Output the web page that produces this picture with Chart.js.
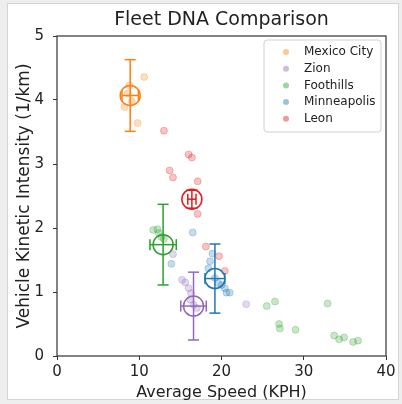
<!DOCTYPE html>
<html>
<head>
<meta charset="utf-8">
<script src="https://cdn.jsdelivr.net/npm/chart.js@4.4.0/dist/chart.umd.min.js"></script>
<style>
html, body { margin: 0; padding: 0; background: #eeeeee; }
#wrap { position: relative; width: 402px; height: 404px; }
</style>
</head>
<body>
<div id="wrap"><canvas id="canvas"></canvas></div>
<script>
// 城市與顏色
var cities = ['Mexico City', 'Zion', 'Foothills', 'Minneapolis', 'Leon'];
var colors = ['#ff7f0e', '#9467bd', '#2ca02c', '#1f77b4', '#e41a1c'];

// 每個城市的散點
var mexicoX = [10.6, 8.8, 8.2, 9.8, 8.6, 9.1];
var mexicoY = [4.36, 4.23, 3.89, 3.64, 4.10, 3.98];
var zionX = [14.1, 15.2, 15.6, 16.0, 16.3, 16.2, 16.6, 17.0, 23.0];
var zionY = [1.59, 1.19, 1.15, 1.06, 0.98, 0.88, 0.80, 0.75, 0.81];
var foothillsX = [11.7, 12.2, 12.4, 12.7, 13.0, 25.5, 26.5, 27.0, 27.1, 29.0, 32.9, 33.7, 34.3, 34.9, 36.0, 36.6];
var foothillsY = [1.97, 1.98, 1.92, 1.86, 1.83, 0.78, 0.85, 0.50, 0.43, 0.41, 0.82, 0.32, 0.26, 0.29, 0.22, 0.24];
var minneapolisX = [16.5, 13.9, 18.9, 18.6, 18.4, 19.2, 19.6, 20.0, 20.4, 20.6, 21.0];
var minneapolisY = [1.93, 1.44, 1.60, 1.48, 1.37, 1.22, 1.14, 1.11, 1.06, 0.99, 0.99];
var leonX = [13.0, 16.0, 16.4, 13.7, 14.1, 17.1, 17.1, 18.1, 19.7, 20.4];
var leonY = [3.52, 3.15, 3.10, 2.90, 2.79, 2.73, 2.22, 1.71, 1.56, 1.33];

// 平均值與誤差
var meanX = [8.9, 16.6, 12.9, 19.2, 16.4];
var meanY = [4.07, 0.78, 1.74, 1.21, 2.45];
var errX = [1.0, 1.55, 1.6, 1.2, 0.5];
var errY = [0.56, 0.53, 0.63, 0.54, 0.14];

var pointsX = [mexicoX, zionX, foothillsX, minneapolisX, leonX];
var pointsY = [mexicoY, zionY, foothillsY, minneapolisY, leonY];

var xTicks = [0, 10, 20, 30, 40];
var yTicks = [0, 1, 2, 3, 4, 5];

var fontName = "'DejaVu Sans', sans-serif";

function rgba(hex, a) {
    var n = parseInt(hex.slice(1), 16);
    return 'rgba(' + (n >> 16) + ',' + ((n >> 8) & 255) + ',' + (n & 255) + ',' + a + ')';
}

function toXY(xs, ys) {
    var out = [];
    for (var i = 0; i < xs.length; i++) out.push({x: xs[i], y: ys[i]});
    return out;
}

var datasets = [];
for (var i = 0; i < cities.length; i++) {
    var c = colors[i];
    //散點
    datasets.push({
        type: 'scatter',
        label: cities[i],
        data: toXY(pointsX[i], pointsY[i]),
        pointRadius: 3.5,
        pointBorderWidth: 1,
        backgroundColor: rgba(c, 0.26),
        borderColor: rgba(c, 0.26),
        order: 2
    });
    //垂直誤差
    datasets.push({
        type: 'line',
        label: '',
        data: [{x: meanX[i], y: meanY[i] - errY[i]}, {x: meanX[i], y: meanY[i] + errY[i]}],
        showLine: true,
        borderColor: c,
        borderWidth: 1.5,
        pointStyle: 'line',
        pointRadius: 5.5,
        pointBorderColor: c,
        pointBorderWidth: 1.5,
        fill: false,
        order: 1
    });
    //水平誤差
    datasets.push({
        type: 'line',
        label: '',
        data: [{x: meanX[i] - errX[i], y: meanY[i]}, {x: meanX[i] + errX[i], y: meanY[i]}],
        showLine: true,
        borderColor: c,
        borderWidth: 1.5,
        pointStyle: 'line',
        pointRotation: 90,
        pointRadius: 5.5,
        pointBorderColor: c,
        pointBorderWidth: 1.5,
        fill: false,
        order: 1
    });
    //平均圓圈
    datasets.push({
        type: 'scatter',
        label: '',
        data: [{x: meanX[i], y: meanY[i]}],
        pointRadius: 10,
        pointBorderWidth: 1.5,
        backgroundColor: 'rgba(0,0,0,0)',
        borderColor: c,
        order: 1
    });
}

//背景
var bgPlugin = {
    id: 'bg',
    beforeDraw: function(chart) {
        var ctx = chart.ctx;
        ctx.save();
        ctx.fillStyle = '#eeeeee';
        ctx.fillRect(0, 0, chart.width, chart.height);
        ctx.fillStyle = '#ffffff';
        ctx.fillRect(8, 4, 390, 395);
        ctx.strokeStyle = '#d4d4d4';
        ctx.lineWidth = 1;
        ctx.strokeRect(7.5, 3.5, 391, 396);
        ctx.restore();
    }
};

//外框與圖例
var framePlugin = {
    id: 'frame',
    afterDraw: function(chart) {
        var ctx = chart.ctx;
        var a = chart.chartArea;
        ctx.save();
        ctx.strokeStyle = '#333333';
        ctx.lineWidth = 1.2;
        ctx.strokeRect(a.left, a.top, a.right - a.left, a.bottom - a.top);

        var w = 117, h = 92;
        var lx = a.right - 5 - w, ly = a.top + 4;
        ctx.beginPath();
        ctx.roundRect(lx, ly, w, h, 3);
        ctx.fillStyle = 'rgba(255,255,255,0.8)';
        ctx.fill();
        ctx.strokeStyle = '#d0d0d0';
        ctx.lineWidth = 1;
        ctx.stroke();

        ctx.font = '12px ' + fontName;
        ctx.textBaseline = 'middle';
        ctx.textAlign = 'left';
        for (var i = 0; i < cities.length; i++) {
            var yy = ly + 12 + i * 16.7;
            ctx.beginPath();
            ctx.arc(lx + 22, yy, 3, 0, Math.PI * 2);
            ctx.fillStyle = rgba(colors[i], 0.45);
            ctx.fill();
            ctx.fillStyle = '#222222';
            ctx.fillText(cities[i], lx + 40, yy);
        }
        ctx.restore();
    }
};

var ctx = document.getElementById('canvas').getContext('2d');
window.myChart = new Chart(ctx, {
    type: 'scatter',
    data: { datasets: datasets },
    options: {
        responsive: true,
        maintainAspectRatio: false,
        animation: false,
        layout: { padding: { left: 0, right: 16, top: 0, bottom: 0 } },
        plugins: {
            legend: { display: false },
            tooltip: { enabled: false },
            title: {
                display: true,
                text: 'Fleet DNA Comparison',
                fullSize: false,
                color: '#222222',
                font: { family: fontName, size: 19, weight: 'normal' },
                padding: { top: 8.6, bottom: 4.6 }
            }
        },
        scales: {
            x: {
                type: 'linear',
                min: 0,
                max: 40,
                afterFit: function(scale) { scale.height = 48; },
                afterBuildTicks: function(scale) {
                    scale.ticks = xTicks.map(function(v) { return {value: v}; });
                },
                border: { display: false },
                grid: { drawOnChartArea: false, drawTicks: true, tickLength: 4, color: '#333333' },
                ticks: { color: '#222222', font: { family: fontName, size: 15 }, padding: 3, maxRotation: 0 },
                title: {
                    display: true,
                    text: 'Average Speed (KPH)',
                    color: '#222222',
                    font: { family: fontName, size: 16 },
                    padding: { top: 0, bottom: 1.4 }
                }
            },
            y: {
                type: 'linear',
                min: 0,
                max: 5,
                afterFit: function(scale) { scale.width = 57; },
                afterBuildTicks: function(scale) {
                    scale.ticks = yTicks.map(function(v) { return {value: v}; });
                },
                border: { display: false },
                grid: { drawOnChartArea: false, drawTicks: true, tickLength: 4, color: '#333333' },
                ticks: { color: '#222222', font: { family: fontName, size: 15 }, padding: 9 },
                title: {
                    display: true,
                    text: 'Vehicle Kinetic Intensity (1/km)',
                    color: '#222222',
                    font: { family: fontName, size: 17 },
                    padding: { top: 14.8, bottom: 0 }
                }
            }
        }
    },
    plugins: [bgPlugin, framePlugin]
});
</script>
</body>
</html>
